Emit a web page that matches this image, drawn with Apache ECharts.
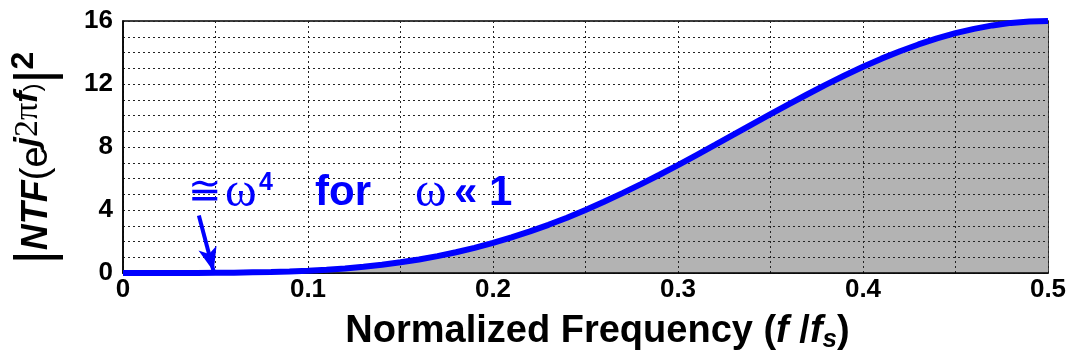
<!DOCTYPE html>
<html>
<head>
<meta charset="utf-8">
<script src="https://cdn.jsdelivr.net/npm/echarts@6/dist/echarts.min.js"></script>
<style>
  html, body { margin: 0; padding: 0; background: #fff; }
  #chart { width: 1068px; height: 356px; }
</style>
</head>
<body>
<div id="chart"></div>
<script>
// normalized frequency f/fs, read at 0.01 steps
var freq = [0, 0.01, 0.02, 0.03, 0.04, 0.05, 0.06, 0.07, 0.08, 0.09,
            0.1, 0.11, 0.12, 0.13, 0.14, 0.15, 0.16, 0.17, 0.18, 0.19,
            0.2, 0.21, 0.22, 0.23, 0.24, 0.25, 0.26, 0.27, 0.28, 0.29,
            0.3, 0.31, 0.32, 0.33, 0.34, 0.35, 0.36, 0.37, 0.38, 0.39,
            0.4, 0.41, 0.42, 0.43, 0.44, 0.45, 0.46, 0.47, 0.48, 0.49, 0.5];
// |NTF|^2
var ntf = [0, 0, 0, 0, 0, 0.01, 0.02, 0.04, 0.06, 0.1,
           0.15, 0.21, 0.29, 0.4, 0.53, 0.68, 0.86, 1.07, 1.32, 1.6,
           1.91, 2.26, 2.64, 3.06, 3.51, 4.0, 4.52, 5.07, 5.64, 6.24,
           6.85, 7.49, 8.13, 8.78, 9.44, 10.08, 10.72, 11.35, 11.96, 12.54,
           13.09, 13.61, 14.08, 14.51, 14.9, 15.23, 15.5, 15.72, 15.88, 15.97, 16];
var xTicks = [0, 0.1, 0.2, 0.3, 0.4, 0.5];
var yTicks = [0, 4, 8, 12, 16];

var pts = freq.map(function (f, i) { return [f, ntf[i]]; });

var chart = echarts.init(document.getElementById('chart'));
var font = 'Liberation Sans, Arial, sans-serif';
var serif = 'Liberation Serif, Times New Roman, serif';
var dotted = { show: true, lineStyle: { color: '#222', type: [2, 3], width: 1 } };
var blue = '#0000ff';

var option = {
    animation: false,
    grid: {
        left: 123, right: 20, top: 21, bottom: 83,
        outerBoundsMode: 'none',
        containLabel: false,
        show: true, borderColor: '#000', borderWidth: 1.5
    },
    xAxis: {
        type: 'value',
        min: 0, max: 0.5, interval: 0.1,
        z: 3,
        axisLine: { onZero: false, lineStyle: { color: '#000', width: 1.5 } },
        axisTick: { show: false },
        axisLabel: {
            color: '#000', fontFamily: font, fontWeight: 'bold', fontSize: 26, margin: 4,
            formatter: function (v) { return xTicks.indexOf(+v.toFixed(2)) >= 0 ? String(+v.toFixed(1)) : ''; }
        },
        splitLine: dotted,
        minorTick: { show: false, splitNumber: 2 },
        minorSplitLine: dotted,
        name: '{b|Normalized Frequency (}{i|f }{b|/}{i|f}{sub|s}{b|)}',
        nameLocation: 'middle',
        nameGap: 38,
        nameTextStyle: {
            padding: [0, 0, 0, 24],
            rich: {
                b: { fontFamily: font, fontWeight: 'bold', fontSize: 38, color: '#000' },
                i: { fontFamily: font, fontWeight: 'bold', fontStyle: 'italic', fontSize: 38, color: '#000' },
                sub: { fontFamily: font, fontWeight: 'bold', fontStyle: 'italic', fontSize: 26, color: '#000', padding: [16, 0, 0, 0] }
            }
        }
    },
    yAxis: {
        type: 'value',
        min: 0, max: 16, interval: 4,
        z: 3,
        axisLine: { show: true, lineStyle: { color: '#000', width: 1.5 } },
        axisTick: { show: false },
        axisLabel: {
            color: '#000', fontFamily: font, fontWeight: 'bold', fontSize: 26, margin: 10,
            formatter: function (v) { return yTicks.indexOf(v) >= 0 ? String(v) : ''; }
        },
        splitLine: dotted,
        minorTick: { show: false, splitNumber: 4 },
        minorSplitLine: dotted
    },
    series: [
        {
            type: 'line',
            data: pts,
            showSymbol: false,
            z: 1,
            lineStyle: { width: 0 },
            areaStyle: { color: '#b3b3b3', opacity: 1 }
        },
        {
            type: 'line',
            data: pts,
            showSymbol: false,
            z: 5,
            lineStyle: { color: blue, width: 6 },
            markLine: {
                silent: true,
                symbol: ['none', 'arrow'],
                symbolSize: [14, 24],
                label: { show: false },
                lineStyle: { color: blue, width: 4, type: 'solid' },
                data: [[{ coord: [0.041, 3.65] }, { coord: [0.049, 0.1] }]]
            }
        }
    ],
    graphic: [
        {
            type: 'text',
            x: 37, y: 158,
            rotation: Math.PI / 2,
            style: {
                text: '{bar||}{n|NTF}{p|(e}{ji|j}{r|2π}{ji|f}{sp|)}{bar||}{sq|2}',
                align: 'center',
                verticalAlign: 'middle',
                fill: '#000',
                rich: {
                    bar: { fontFamily: font, fontSize: 54, fill: '#000' },
                    n: { fontFamily: font, fontWeight: 'bold', fontStyle: 'italic', fontSize: 36, fill: '#000' },
                    p: { fontFamily: font, fontSize: 38, fill: '#000' },
                    ji: { fontFamily: font, fontWeight: 'bold', fontStyle: 'italic', fontSize: 34, fill: '#000', padding: [0, 0, 18, 0] },
                    r: { fontFamily: serif, fontSize: 34, fill: '#000', padding: [0, 0, 18, 0] },
                    sp: { fontFamily: font, fontSize: 24, fill: '#000', padding: [0, 0, 8, 0] },
                    sq: { fontFamily: font, fontWeight: 'bold', fontSize: 32, fill: '#000', padding: [0, 0, 26, 0] }
                }
            }
        },
        {
            type: 'text',
            left: 188, top: 169,
            z: 10,
            style: {
                text: '{s|≅}{w|ω}{sup|4}{b|for}{w2|ω}{g|«}{b|1}',
                fill: blue,
                rich: {
                    s: { fontFamily: serif, fontSize: 40, fill: blue, width: 37 },
                    w: { fontFamily: serif, fontSize: 48, fill: blue, width: 34 },
                    sup: { fontFamily: font, fontWeight: 'bold', fontSize: 25, fill: blue, padding: [0, 0, 20, 0], width: 56 },
                    b: { fontFamily: font, fontWeight: 'bold', fontSize: 42, fill: blue, width: 100 },
                    w2: { fontFamily: serif, fontSize: 48, fill: blue, width: 39 },
                    g: { fontFamily: font, fontWeight: 'bold', fontSize: 42, fill: blue, width: 35 }
                }
            }
        }
    ]
};

chart.setOption(option);
</script>
</body>
</html>
